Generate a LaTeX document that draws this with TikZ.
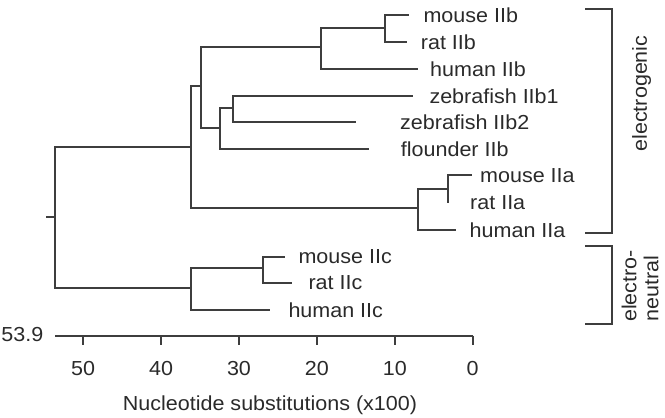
\documentclass[tikz,border=0pt]{standalone}
\usepackage{fontspec}
\setmainfont[FakeStretch=1.06]{Liberation Sans}
\definecolor{linec}{RGB}{62,62,62}
\definecolor{textc}{RGB}{42,42,42}
\newcommand{\lblfont}{\fontsize{20.3}{22}\selectfont}
\tikzset{
  br/.style={draw=linec, line width=2pt},
  lab/.style={anchor=base west, inner sep=0pt, text=textc, font=\lblfont},
  ticklab/.style={anchor=base, inner sep=0pt, text=textc, font=\lblfont},
  grp/.style={inner sep=0pt, text=textc, font=\lblfont, rotate=90}
}
\begin{document}
\begin{tikzpicture}[x=1pt,y=-1pt]
\useasboundingbox (0,0) rectangle (665,418);
% internal nodes
\coordinate (rs) at (46,217);
\coordinate (r) at (55,217);
\coordinate (a) at (190.7,146.7);
\coordinate (b) at (201,86);
\coordinate (c) at (321,47.3);
\coordinate (d) at (385,28);
\coordinate (e) at (220.3,127.7);
\coordinate (f) at (233.3,108);
\coordinate (g) at (418.3,208);
\coordinate (h) at (447.7,189.3);
\coordinate (i) at (190.7,287.7);
\coordinate (j) at (262.7,268.3);
% leaves
\coordinate (mIIb) at (409,15);
\coordinate (rIIb) at (406.7,42);
\coordinate (hIIb) at (418,69.3);
\coordinate (zI) at (413,96);
\coordinate (zII) at (356,122);
\coordinate (fl) at (369,149.3);
\coordinate (mIIa) at (471.7,175);
\coordinate (rIIa) at (447.7,202.7);
\coordinate (hIIa) at (456,230);
\coordinate (mIIc) at (285,256.7);
\coordinate (rIIc) at (292,282.7);
\coordinate (hIIc) at (270,310);
% branches
\draw[br] (rs) -- (r);
\draw[br] (r) |- (a);
\draw[br] (r) |- (i);
\draw[br] (a) |- (b);
\draw[br] (a) |- (g);
\draw[br] (b) |- (c);
\draw[br] (b) |- (e);
\draw[br] (c) |- (d);
\draw[br] (c) |- (hIIb);
\draw[br] (d) |- (mIIb);
\draw[br] (d) |- (rIIb);
\draw[br] (e) |- (f);
\draw[br] (e) |- (fl);
\draw[br] (f) |- (zI);
\draw[br] (f) |- (zII);
\draw[br] (g) |- (h);
\draw[br] (g) |- (hIIa);
\draw[br] (h) |- (mIIa);
\draw[br] (h) |- (rIIa);
\draw[br] (i) |- (j);
\draw[br] (i) |- (hIIc);
\draw[br] (j) |- (mIIc);
\draw[br] (j) |- (rIIc);
% leaf labels
\node[lab] (LmIIb) at (423.3,22) {mouse IIb};
\node[lab] (LrIIb) at (420.7,49) {rat IIb};
\node[lab] (LhIIb) at (430,76) {human IIb};
\node[lab] (LzI) at (429.3,103) {zebrafish IIb1};
\node[lab] (LzII) at (400,129) {zebrafish IIb2};
\node[lab] (Lfl) at (400.7,156) {flounder IIb};
\node[lab] (LmIIa) at (480,182) {mouse IIa};
\node[lab] (LrIIa) at (470,209.7) {rat IIa};
\node[lab] (LhIIa) at (469.5,237) {human IIa};
\node[lab] (LmIIc) at (298.3,263.7) {mouse IIc};
\node[lab] (LrIIc) at (308.3,289.7) {rat IIc};
\node[lab] (LhIIc) at (288.3,317) {human IIc};
% axis
\coordinate (ax0) at (55,335.7);
\coordinate (ax1) at (472.7,335.7);
\draw[br] (ax0) -- (ax1);
\foreach \v in {0,10,20,30,40,50}{
  \coordinate (t\v) at ({472.7-7.79*\v},335.7);
  \draw[br] (t\v) -- ++(0,9.3);
  \node[ticklab] (tl\v) at ({472.7-7.79*\v},375) {\v};
}
\node[anchor=base east, inner sep=0pt, text=textc, font=\lblfont] (max) at (43.5,341) {53.9};
\node[ticklab] (title) at (270,410) {Nucleotide substitutions (x100)};
% brackets
\coordinate (eg1) at (585,9.3);
\coordinate (eg2) at (611.7,9.3);
\coordinate (eg3) at (611.7,232.7);
\coordinate (eg4) at (585,232.7);
\draw[br] (eg1) -- (eg2) -- (eg3) -- (eg4);
\coordinate (en1) at (585,245.5);
\coordinate (en2) at (611.7,245.5);
\coordinate (en3) at (611.7,324);
\coordinate (en4) at (585,324);
\draw[br] (en1) -- (en2) -- (en3) -- (en4);
\node[grp] (Leg) at (641.5,93.5) {electrogenic};
\node[grp, anchor=west, align=left] (Len) at (640,322) {electro-\\neutral};
\end{tikzpicture}
\end{document}
